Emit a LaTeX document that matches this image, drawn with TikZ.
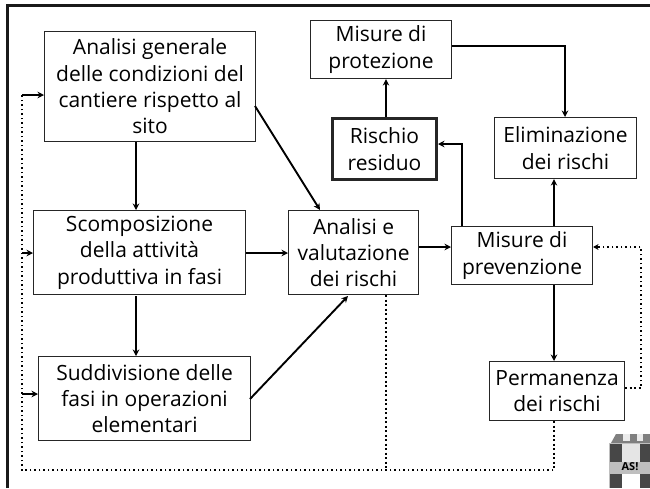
\documentclass[tikz,border=0pt]{standalone}
\usepackage{fontspec}
\setmainfont{Open Sans}
\usetikzlibrary{arrows.meta,calc}
\tikzset{
 x=1pt,y=-1pt,
 bx/.style={draw=black!85,line width=1.1pt,fill=white,align=center,inner sep=0pt,font=\fontsize{21}{26.3}\selectfont,text=black},
 thickbx/.style={bx,line width=3pt},
 arr/.style={line width=1.9pt,-{Stealth[length=6.5pt,width=6.5pt]}},
 dots/.style={line width=1.9pt,dash pattern=on 1.9pt off 2.6pt},
 logod/.style={fill=black!72,draw=none},
}
\newcommand{\boxat}[7][bx]{\node[#1,minimum width=#4pt,minimum height=#5pt,anchor=north west] (#2) at (#3) {#6};}
\begin{document}
\begin{tikzpicture}
\useasboundingbox (0,0) rectangle (650,488);
\fill[white] (0,0) rectangle (650,488);
% frame
\draw[line width=3pt,black!90] (7,488) -- (7,5) -- (650,5);
% boxes
\boxat{A}{44,31}{211}{110}{Analisi generale\\delle condizioni del\\cantiere rispetto al\\sito}{}
\boxat{B}{33,210}{212}{84}{Scomposizione\\della attività\\produttiva in fasi}{}
\boxat{C}{38,356}{212}{84}{Suddivisione delle\\fasi in operazioni\\elementari}{}
\boxat{D}{288,210}{130}{84}{Analisi e\\valutazione\\dei rischi}{}
\boxat{E}{451,226}{141}{58}{Misure di\\prevenzione}{}
\boxat{F}{489,361}{135}{59}{Permanenza\\dei rischi}{}
\boxat{G}{494,117}{142}{61}{Eliminazione\\dei rischi}{}
\boxat[thickbx]{H}{331,117}{104}{61}{Rischio\\residuo}{}
\boxat{I}{310,20}{141}{58}{Misure di\\protezione}{}
% reference coordinates
\coordinate (xAB) at (136,0);
\coordinate (xDown) at (386,0);
\coordinate (xE) at (554,0);
\coordinate (xER) at (462,0);
\coordinate (xIG) at (565,0);
\coordinate (yBD) at (0,253);
\coordinate (yDE) at (0,247);
\coordinate (yEH) at (0,144);
\coordinate (yIG) at (0,46);
\coordinate (yFR) at (0,388);
\coordinate (yAin) at (0,95);
\coordinate (yCin) at (0,394);
\coordinate (AD1) at (255,106);
\coordinate (AD2) at (320,210);
\coordinate (CD1) at (250,399);
\coordinate (CD2) at (348,296);
\coordinate (BC1) at (136,296);
\coordinate (FoutR) at (641,388);
\coordinate (busL) at (22,470);
\coordinate (busR) at (554,470);
\coordinate (busD) at (386,470);
\coordinate (busTop) at (22,95);
% solid connectors
\draw[arr] (A.south -| xAB) -- (B.north -| xAB);
\draw[arr] (BC1) -- (C.north -| xAB);
\draw[arr] (B.east |- yBD) -- (D.west |- yBD);
\draw[arr] (AD1) -- (AD2);
\draw[arr] (CD1) -- (CD2);
\draw[arr,line width=2.4pt] (D.east |- yDE) -- (E.west |- yDE);
\draw[arr] (E.north -| xER) -- (xER |- yEH) -- (H.east |- yEH);
\draw[arr] (E.north -| xE) -- (G.south -| xE);
\draw[arr] (E.south -| xE) -- (F.north -| xE);
\draw[arr] (H.north -| xDown) -- (I.south -| xDown);
\draw[arr] (I.east |- yIG) -- (xIG |- yIG) -- (G.north -| xIG);
% dotted feedback
\draw[dots] (F.east |- yFR) -- (FoutR) -- (FoutR |- yDE) -- ([xshift=5pt]E.east |- yDE);
\draw[-{Stealth[length=5.5pt,width=6pt]},line width=1.5pt] ([xshift=6pt]E.east |- yDE) -- (E.east |- yDE);
\draw[dots] (F.south -| xE) -- (busR) -- (busL) -- (busTop);
\draw[dots] (D.south -| xDown) -- (busD);
% entries
\draw[arr] (busTop) -- (A.west |- yAin);
\draw[arr,line width=1.5pt] (busL |- yBD) -- (B.west |- yBD);
\draw[arr,line width=1.5pt] (busL |- yCin) -- (C.west |- yCin);
% logo
\fill[black!50] (611,443) -- (616,434) -- (650,434) -- (650,443) -- cycle;
\fill[black!8] (623,434) rectangle (630,441);
\fill[black!8] (637,434) rectangle (643,441);
\fill[black!25] (609,443) rectangle (650,488);
\fill[logod] (610,444) rectangle (622,462);
\fill[logod] (640,444) rectangle (650,462);
\fill[logod] (610,474) rectangle (622,488);
\fill[logod] (640,474) rectangle (650,488);
\fill[black!10] (622,444) rectangle (640,462);
\fill[white] (622,474) rectangle (640,488);
\node[inner sep=0pt,font=\bfseries\fontsize{11}{11}\selectfont] (logotext) at (630,467) {AS!};
\end{tikzpicture}
\end{document}
